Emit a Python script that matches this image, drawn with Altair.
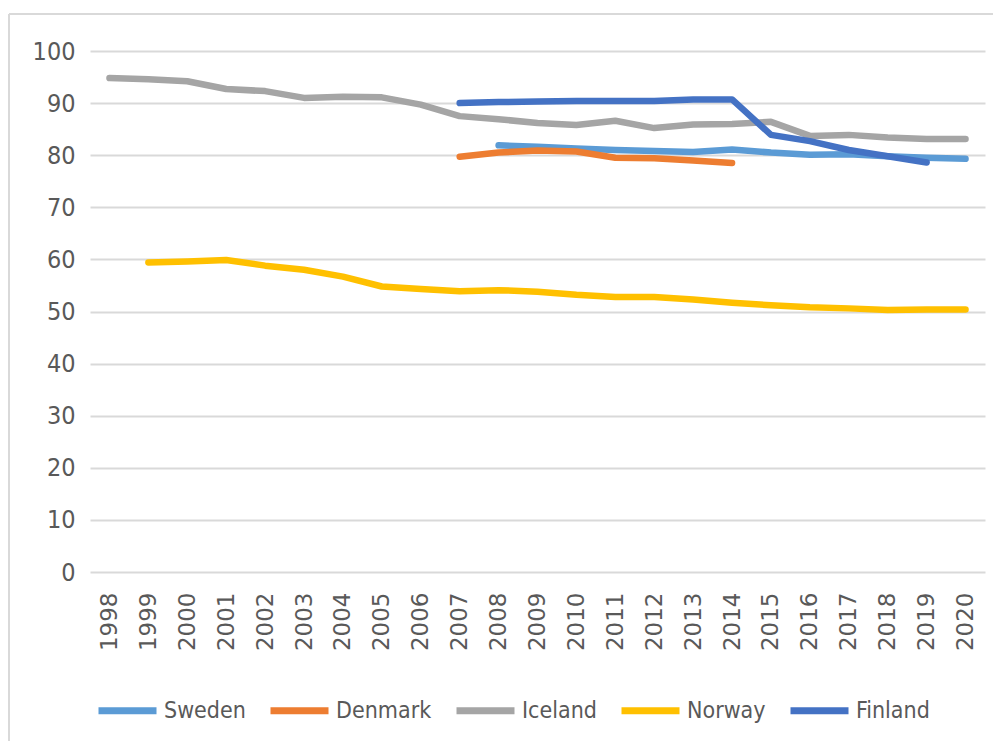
import altair as alt
import pandas as pd

years = [str(y) for y in range(1998, 2021)]
series_names = ["Sweden", "Denmark", "Iceland", "Norway", "Finland"]
colors = ["#5B9BD5", "#ED7D31", "#A5A5A5", "#FFC000", "#4472C4"]

sweden = [None] * 10 + [81.9, 81.6, 81.3, 81.0, 80.8, 80.6, 81.1, 80.5, 80.1, 80.2, 79.8, 79.5, 79.3]
denmark = [None] * 9 + [79.7, 80.5, 80.9, 80.7, 79.5, 79.4, 79.0, 78.5] + [None] * 6
iceland = [94.8, 94.6, 94.2, 92.7, 92.3, 91.0, 91.2, 91.1, 89.7, 87.5, 86.9, 86.2,
           85.8, 86.6, 85.2, 85.9, 86.0, 86.4, 83.7, 83.9, 83.4, 83.1, 83.1]
norway = [None, 59.4, 59.6, 59.9, 58.8, 58.0, 56.7, 54.8, 54.3, 53.9, 54.1, 53.8,
          53.2, 52.8, 52.8, 52.3, 51.7, 51.2, 50.8, 50.6, 50.3, 50.4, 50.4]
finland = [None] * 9 + [90.0, 90.2, 90.3, 90.4, 90.4, 90.4, 90.7, 90.7, 83.9, 82.7, 81.0, 79.8, 78.6, None]

values = [sweden, denmark, iceland, norway, finland]
rows = []
for name, vals in zip(series_names, values):
    for yr, v in zip(years, vals):
        if v is not None:
            rows.append({"Year": yr, "Value": v, "Country": name})
df = pd.DataFrame(rows)

label_color = "#595959"
grid_color = "#d9d9d9"
narrow_font = "Liberation Sans Narrow, DejaVu Sans Condensed, sans-serif"

one = pd.DataFrame({"a": [0]})
frame_top = alt.Chart(one).mark_rule(stroke=grid_color, strokeWidth=2).encode(
    x=alt.value(-81), x2=alt.value(1100), y=alt.value(-37)
)
frame_left = alt.Chart(one).mark_rule(stroke=grid_color, strokeWidth=2).encode(
    x=alt.value(-81), y=alt.value(-37), y2=alt.value(800)
)

lines = alt.Chart(df).mark_line(strokeWidth=6.5, strokeCap="round", strokeJoin="round").encode(
    x=alt.X("Year:O", scale=alt.Scale(type="point", domain=years, padding=0.5),
            axis=alt.Axis(title=None, labelAngle=-90, labelFont="DejaVu Sans", labelFontSize=23,
                          labelColor=label_color, ticks=False, domain=False, labelPadding=20,
                          grid=False)),
    y=alt.Y("Value:Q", scale=alt.Scale(domain=[0, 100], nice=False),
            axis=alt.Axis(title=None, values=list(range(0, 101, 10)), labelFont=narrow_font,
                          labelFontSize=25, labelColor=label_color, ticks=False, domain=False,
                          labelPadding=15, grid=True, gridColor=grid_color, gridWidth=2)),
    color=alt.Color("Country:N", scale=alt.Scale(domain=series_names, range=colors),
                    legend=alt.Legend(title=None, orient="none", legendX=5, legendY=627,
                                      direction="horizontal", symbolType="stroke",
                                      symbolSize=3364, symbolStrokeWidth=7, labelOffset=4,
                                      columnPadding=10, padding=0, labelFont=narrow_font,
                                      labelFontSize=23, labelColor=label_color)),
)

chart = alt.layer(frame_top, frame_left, lines).properties(
    width=895, height=521,
    autosize=alt.AutoSizeParams(type="none"),
    padding={"left": 82, "top": 43, "right": 8, "bottom": 169},
).configure_view(stroke=None)

chart.save("out.html", embed_options={"renderer": "svg", "actions": False})
